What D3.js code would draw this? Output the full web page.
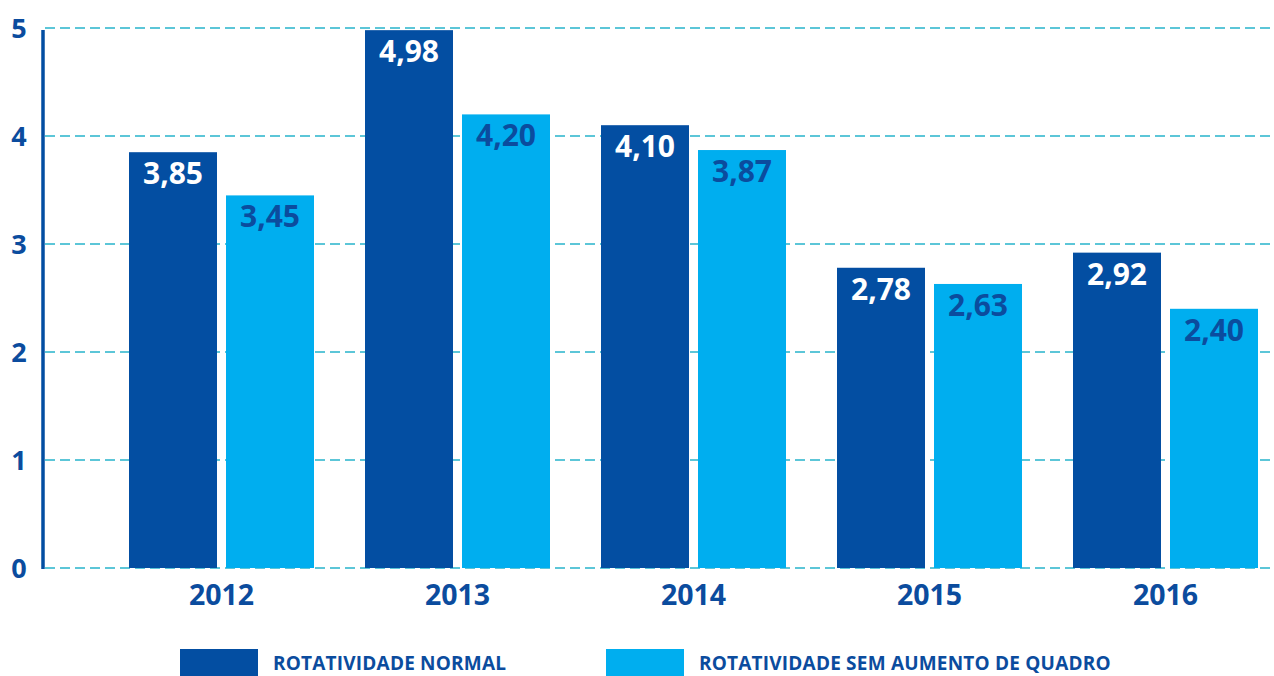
<!DOCTYPE html>
<html>
<head>
<meta charset="utf-8">
<script src="https://cdn.jsdelivr.net/npm/d3@7"></script>
<style>
  body { margin: 0; background: #fff; }
  svg { display: block; font-family: "Open Sans", "Noto Sans", sans-serif; font-weight: 700; }
</style>
</head>
<body>
<svg width="1274" height="676"></svg>
<script>
// Chart data
const years = ["2012", "2013", "2014", "2015", "2016"];
const seriesNames = ["ROTATIVIDADE NORMAL", "ROTATIVIDADE SEM AUMENTO DE QUADRO"];
const normal = [3.85, 4.98, 4.10, 2.78, 2.92];
const semAumento = [3.45, 4.20, 3.87, 2.63, 2.40];
const yTicks = [0, 1, 2, 3, 4, 5];

const darkBlue = "#034ea2";
const lightBlue = "#00aeef";
const gridColor = "#5cc6d8";
const textBlue = "#0b4c9e";

const svg = d3.select("svg");

const rows = years.map((y, i) => ({
  year: y,
  values: [
    { key: seriesNames[0], value: normal[i] },
    { key: seriesNames[1], value: semAumento[i] },
  ],
}));

// Scales
const x0 = d3.scaleBand().domain(years).range([103.5, 1283.5]).padding(0);
const x1 = d3
  .scaleBand()
  .domain(seriesNames)
  .range([25.5, 210.5])
  .paddingInner(9 / 97)
  .paddingOuter(0);
const y = d3.scaleLinear().domain([0, 5]).range([568, 28]);
const color = d3.scaleOrdinal().domain(seriesNames).range([darkBlue, lightBlue]);

// Gridlines (behind bars)
svg
  .append("g")
  .selectAll("line")
  .data(yTicks)
  .enter()
  .append("line")
  .attr("x1", 45)
  .attr("x2", 1274)
  .attr("y1", (d) => y(d))
  .attr("y2", (d) => y(d))
  .attr("stroke", gridColor)
  .attr("stroke-width", 2)
  .attr("stroke-dasharray", "10,5");

// Y axis labels
svg
  .append("g")
  .selectAll("text")
  .data(yTicks)
  .enter()
  .append("text")
  .attr("x", 19)
  .attr("y", (d) => y(d))
  .attr("dy", "0.36em")
  .attr("text-anchor", "middle")
  .attr("fill", textBlue)
  .attr("font-size", 27)
  .text((d) => d);

// Bars
const groups = svg
  .append("g")
  .selectAll("g")
  .data(rows)
  .enter()
  .append("g")
  .attr("transform", (d) => `translate(${x0(d.year)},0)`);

groups
  .selectAll("rect")
  .data((d) => d.values)
  .enter()
  .append("rect")
  .attr("x", (d) => x1(d.key))
  .attr("width", x1.bandwidth())
  .attr("y", (d) => y(d.value))
  .attr("height", (d) => y(0) - y(d.value))
  .attr("fill", (d) => color(d.key));

groups
  .selectAll("text.val")
  .data((d) => d.values)
  .enter()
  .append("text")
  .attr("class", "val")
  .attr("x", (d) => x1(d.key) + x1.bandwidth() / 2)
  .attr("y", (d) => y(d.value) + 32)
  .attr("text-anchor", "middle")
  .attr("font-size", 30)
  .attr("fill", (d) => (d.key === seriesNames[0] ? "#fff" : textBlue))
  .text((d) => d.value.toFixed(2).replace(".", ","));

// Y axis line
svg
  .append("line")
  .attr("x1", 43)
  .attr("x2", 43)
  .attr("y1", 30)
  .attr("y2", 569)
  .attr("stroke", darkBlue)
  .attr("stroke-width", 3.5);

// X axis labels
svg
  .append("g")
  .selectAll("text")
  .data(years)
  .enter()
  .append("text")
  .attr("x", (d) => x0(d) + x0.bandwidth() / 2)
  .attr("y", 605)
  .attr("text-anchor", "middle")
  .attr("fill", textBlue)
  .attr("font-size", 28.5)
  .text((d) => d);

// Legend
const legendX = [180, 606];
const legend = svg
  .append("g")
  .selectAll("g")
  .data(seriesNames)
  .enter()
  .append("g")
  .attr("transform", (d, i) => `translate(${legendX[i]},649)`);

legend
  .append("rect")
  .attr("width", 78)
  .attr("height", 30)
  .attr("fill", (d) => color(d));

legend
  .append("text")
  .attr("x", 93)
  .attr("y", 21)
  .attr("fill", textBlue)
  .attr("font-size", 19)
  .attr("letter-spacing", 0.2)
  .text((d) => d);
</script>
</body>
</html>
